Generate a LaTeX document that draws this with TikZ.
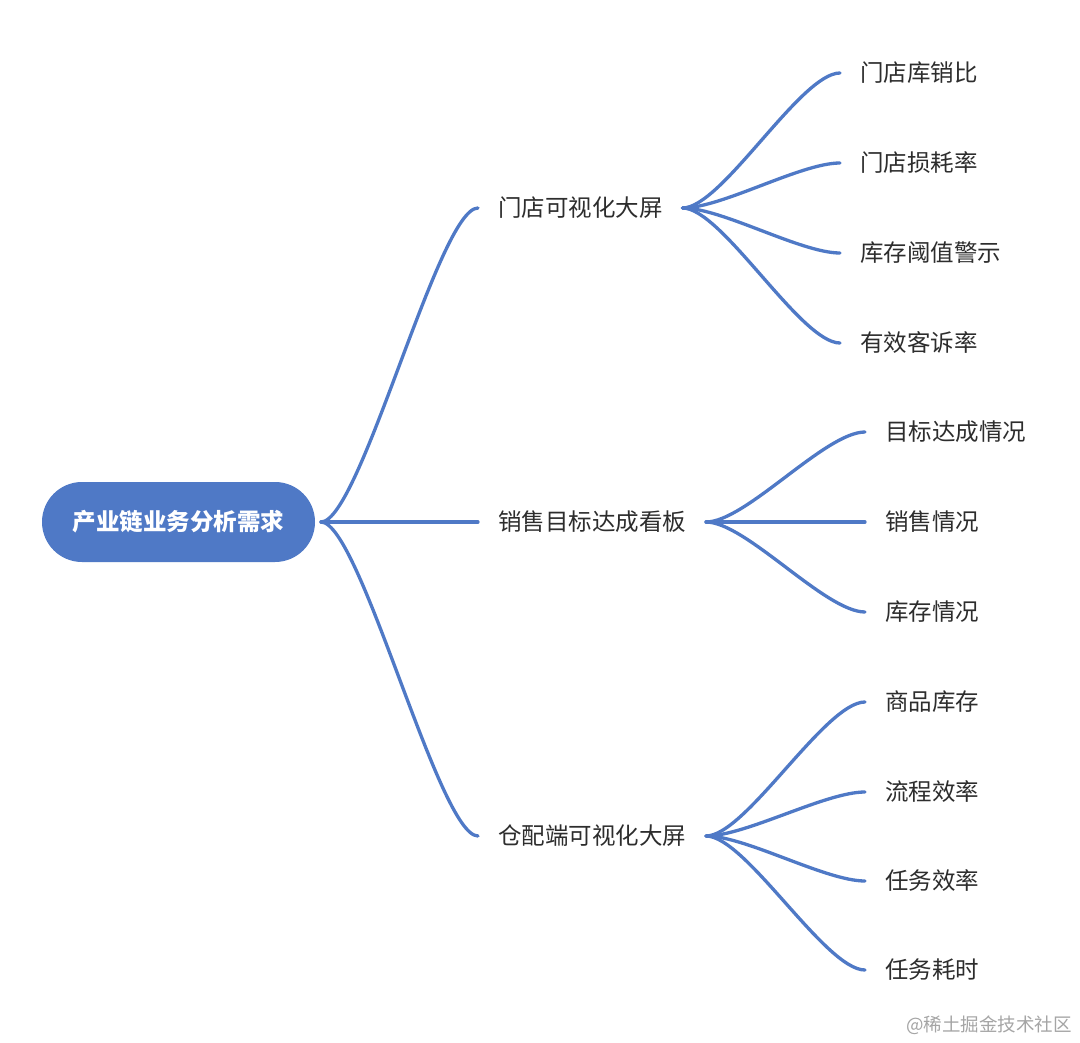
\documentclass[tikz,border=0pt]{standalone}
\usepackage{fontspec}
\setmainfont{Noto Sans CJK SC}
\usetikzlibrary{calc}
\definecolor{mblue}{RGB}{79,121,198}
\definecolor{mtext}{RGB}{45,45,45}
\definecolor{mgray}{RGB}{165,165,165}
\newcommand\mmlink[2]{\draw[conn] let \p1=(#1), \p2=(#2) in (\p1) .. controls ({\x1+0.25*(\x2-\x1)},\y1) and ({\x1+0.75*(\x2-\x1)},\y2) .. (\p2);}
\begin{document}
\begin{tikzpicture}[x=1pt,y=-1pt,
  conn/.style={draw=mblue, line width=3.3pt, line cap=round},
  rootbox/.style={fill=mblue, text=white, font=\fontsize{23.5}{28}\selectfont\bfseries,
    minimum width=273pt, minimum height=80pt, rounded corners=40pt, inner sep=0pt,
    outer xsep=6pt, outer ysep=0pt, text height=20pt, text depth=2.2pt},
  topic/.style={anchor=west, text=mtext, font=\fontsize{23.5}{28}\selectfont,
    inner xsep=20pt, inner ysep=0pt, outer sep=0pt, text height=20pt, text depth=2.2pt},
  wmark/.style={anchor=east, text=mgray, font=\fontsize{18.5}{22}\selectfont, inner sep=0pt}]
\fill[white] (0,0) rectangle (1080,1043);
\useasboundingbox (0,0) rectangle (1080,1043);

\node[rootbox] (root) at (178.5,522) {产业链业务分析需求};

\node[topic] (a) at (478,208) {门店可视化大屏\hspace{2pt}};
\node[topic] (b) at (478,522) {销售目标达成看板\hspace{2pt}};
\node[topic] (c) at (478,836) {仓配端可视化大屏\hspace{2pt}};

\node[topic] (a1) at (840,73) {门店库销比};
\node[topic] (a2) at (840,163) {门店损耗率};
\node[topic] (a3) at (840,253) {库存阈值警示};
\node[topic] (a4) at (840,343) {有效客诉率};

\node[topic] (b1) at (865,432) {目标达成情况};
\node[topic] (b2) at (865,522) {销售情况};
\node[topic] (b3) at (865,612) {库存情况};

\node[topic] (c1) at (865,702) {商品库存};
\node[topic] (c2) at (865,792) {流程效率};
\node[topic] (c3) at (865,881) {任务效率};
\node[topic] (c4) at (865,970) {任务耗时};

\mmlink{root.east}{a.west}
\mmlink{root.east}{b.west}
\mmlink{root.east}{c.west}

\mmlink{a.east}{a1.west}
\mmlink{a.east}{a2.west}
\mmlink{a.east}{a3.west}
\mmlink{a.east}{a4.west}

\mmlink{b.east}{b1.west}
\mmlink{b.east}{b2.west}
\mmlink{b.east}{b3.west}

\mmlink{c.east}{c1.west}
\mmlink{c.east}{c2.west}
\mmlink{c.east}{c3.west}
\mmlink{c.east}{c4.west}

\node[wmark] (wm) at (1072,1025) {@稀土掘金技术社区};
\end{tikzpicture}
\end{document}
